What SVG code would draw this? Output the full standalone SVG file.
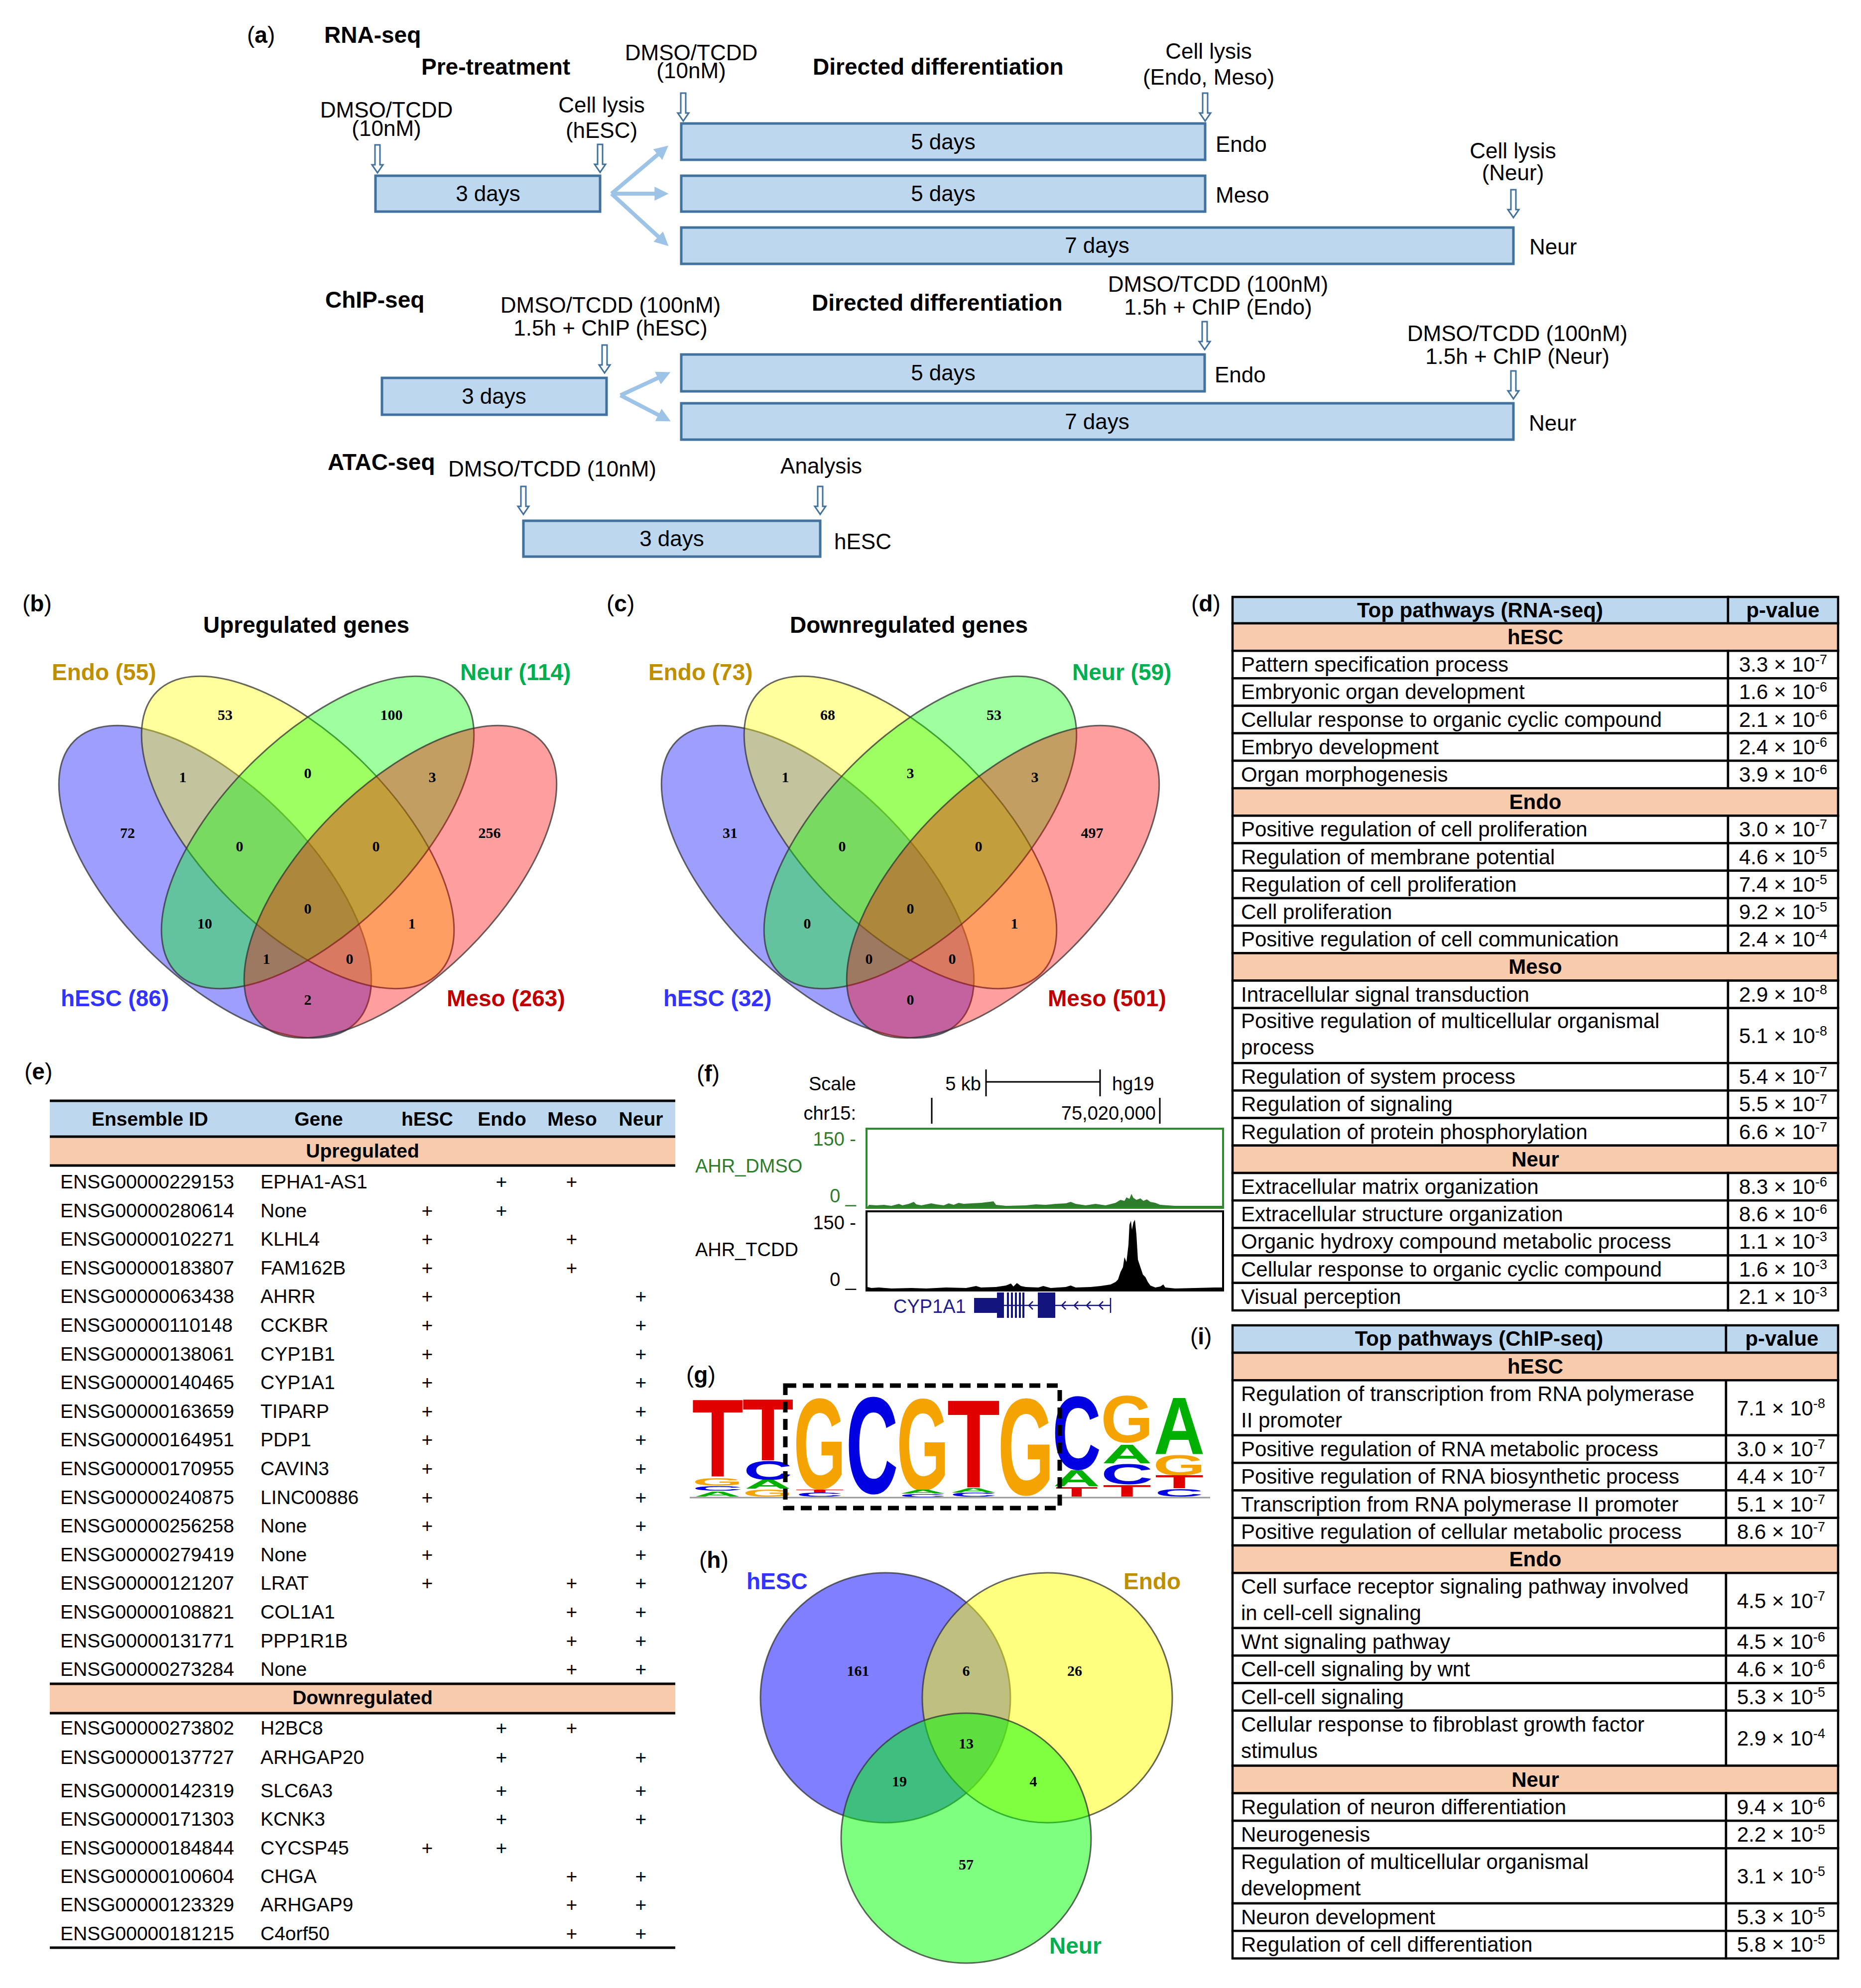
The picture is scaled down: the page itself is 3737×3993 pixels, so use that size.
<svg xmlns="http://www.w3.org/2000/svg" xmlns:xlink="http://www.w3.org/1999/xlink" width="3737" height="3993" viewBox="0 0 3737 3993">
<style>
text{font-family:"Liberation Sans",Arial,Helvetica,sans-serif}
.b{font-weight:bold}
.f44{font-size:44px}
.f46{font-size:46px}
.m{text-anchor:middle}
.box{fill:#BDD7EE;stroke:#41719C;stroke-width:5}
.lb{stroke:#9DC3E6;stroke-width:8;fill:none}
.td{font-size:42px}
.sup{font-size:27px}
.cell{fill:#fff;stroke:#000;stroke-width:4.5}
.hd{fill:#BDD7EE;stroke:#000;stroke-width:4.5}
.band{fill:#F8CBAD;stroke:#000;stroke-width:4.5}
.te{font-size:39px}
.vn{font-family:"Liberation Serif","Times New Roman",serif;font-weight:bold;font-size:30px;text-anchor:middle}
.ucsc{font-size:38px}
.lg{font-weight:bold;font-size:100px;text-anchor:middle}
.ell{stroke:#333;stroke-opacity:.75;stroke-width:3;fill-opacity:.38}
.cir{stroke:#333;stroke-opacity:.75;stroke-width:3;fill-opacity:.5}
.hl{stroke:#000;stroke-width:5}
.endo{fill:#BF8F00}
.neur{fill:#00B050}
.hesc{fill:#3333FF}
.meso{fill:#C00000}
</style>
<defs>
<path id="da" d="M-5,0 H5 V40 H11 L0,56 L-11,40 H-5 Z" fill="#fff" stroke="#41719C" stroke-width="3"/>
<marker id="lbh" viewBox="0 0 10 10" refX="2" refY="5" markerWidth="3.5" markerHeight="3.5" orient="auto" markerUnits="strokeWidth">
<path d="M0,0 L10,5 L0,10 Z" fill="#9DC3E6"/>
</marker>
<g id="venn4">
<ellipse class="ell" cx="432" cy="1771" rx="400" ry="192" fill="#0000FF" transform="rotate(45 432 1771)"/>
<ellipse class="ell" cx="598" cy="1672" rx="400" ry="192" fill="#FFFF00" transform="rotate(45 598 1672)"/>
<ellipse class="ell" cx="638" cy="1672" rx="400" ry="192" fill="#00FF00" transform="rotate(-45 638 1672)"/>
<ellipse class="ell" cx="804" cy="1771" rx="400" ry="192" fill="#FF0000" transform="rotate(-45 804 1771)"/>
</g>
</defs>
<rect width="3737" height="3993" fill="#fff"/>

<!-- Panel a -->
<g id="panel-a">
<text class="f46" x="496" y="86">(<tspan class="b">a</tspan>)</text>
<text class="b f46" x="651" y="86">RNA-seq</text>
<text class="b f46" x="846" y="150">Pre-treatment</text>
<text class="f44 m" x="1388" y="121">DMSO/TCDD</text>
<text class="f44 m" x="1388" y="157">(10nM)</text>
<text class="b f46" x="1632" y="150">Directed differentiation</text>
<text class="f44 m" x="2427" y="118">Cell lysis</text>
<text class="f44 m" x="2427" y="170">(Endo, Meso)</text>
<text class="f44 m" x="776" y="236">DMSO/TCDD</text>
<text class="f44 m" x="776" y="273">(10nM)</text>
<text class="f44 m" x="1208" y="226">Cell lysis</text>
<text class="f44 m" x="1208" y="277">(hESC)</text>
<text class="f44 m" x="3038" y="318">Cell lysis</text>
<text class="f44 m" x="3038" y="362">(Neur)</text>
<g id="rna-pre"><rect class="box" x="754" y="353" width="451" height="72"/><text class="f44 m" x="980" y="404">3 days</text></g>
<g id="rna-endo"><rect class="box" x="1368" y="248" width="1052" height="73"/><text class="f44 m" x="1894" y="300">5 days</text><text class="f44" x="2441" y="305">Endo</text></g>
<g id="rna-meso"><rect class="box" x="1368" y="353" width="1052" height="72"/><text class="f44 m" x="1894" y="404">5 days</text><text class="f44" x="2441" y="407">Meso</text></g>
<g id="rna-neur"><rect class="box" x="1368" y="457" width="1671" height="73"/><text class="f44 m" x="2203" y="508">7 days</text><text class="f44" x="3071" y="511">Neur</text></g>

<text class="b f46" x="653" y="618">ChIP-seq</text>
<text class="f44 m" x="1226" y="628">DMSO/TCDD (100nM)</text>
<text class="f44 m" x="1226" y="674">1.5h + ChIP (hESC)</text>
<text class="b f46" x="1630" y="624">Directed differentiation</text>
<text class="f44 m" x="2446" y="586">DMSO/TCDD (100nM)</text>
<text class="f44 m" x="2446" y="632">1.5h + ChIP (Endo)</text>
<text class="f44 m" x="3047" y="685">DMSO/TCDD (100nM)</text>
<text class="f44 m" x="3047" y="731">1.5h + ChIP (Neur)</text>
<g id="chip-pre"><rect class="box" x="767" y="759" width="451" height="74"/><text class="f44 m" x="992" y="811">3 days</text></g>
<g id="chip-endo"><rect class="box" x="1368" y="712" width="1051" height="74"/><text class="f44 m" x="1894" y="764">5 days</text><text class="f44" x="2439" y="768">Endo</text></g>
<g id="chip-neur"><rect class="box" x="1368" y="810" width="1671" height="73"/><text class="f44 m" x="2203" y="862">7 days</text><text class="f44" x="3070" y="865">Neur</text></g>

<text class="b f46" x="658" y="944">ATAC-seq</text>
<text class="f44 m" x="1109" y="957">DMSO/TCDD (10nM)</text>
<text class="f44 m" x="1649" y="951">Analysis</text>
<g id="atac-box"><rect class="box" x="1051" y="1046" width="596" height="72"/><text class="f44 m" x="1349" y="1097">3 days</text><text class="f44" x="1675" y="1103">hESC</text></g>
</g>

<g id="connectors">
<use xlink:href="#da" x="758" y="291"/>
<use xlink:href="#da" x="1205" y="290"/>
<use xlink:href="#da" x="1372" y="187"/>
<use xlink:href="#da" x="2420" y="187"/>
<use xlink:href="#da" x="3039" y="381"/>
<use xlink:href="#da" x="1214" y="693"/>
<use xlink:href="#da" x="2419" y="646"/>
<use xlink:href="#da" x="3039" y="745"/>
<use xlink:href="#da" x="1051" y="977"/>
<use xlink:href="#da" x="1647" y="977"/>
<line class="lb" x1="1228" y1="389" x2="1325" y2="307" marker-end="url(#lbh)"/>
<line class="lb" x1="1228" y1="389" x2="1320" y2="389" marker-end="url(#lbh)"/>
<line class="lb" x1="1228" y1="389" x2="1326" y2="479" marker-end="url(#lbh)"/>
<line class="lb" x1="1246" y1="794" x2="1326" y2="757" marker-end="url(#lbh)"/>
<line class="lb" x1="1246" y1="794" x2="1327" y2="836" marker-end="url(#lbh)"/>
</g>

<!-- Panel b -->
<g id="panel-b">
<text class="f46" x="45" y="1228">(<tspan class="b">b</tspan>)</text>
<text class="b f46 m" x="615" y="1271">Upregulated genes</text>
<use xlink:href="#venn4"/>
<text class="b f46 endo" x="104" y="1366">Endo (55)</text>
<text class="b f46 neur" x="924" y="1366">Neur (114)</text>
<text class="b f46 hesc" x="122" y="2021">hESC (86)</text>
<text class="b f46 meso" x="897" y="2021">Meso (263)</text>
<text class="vn" x="452" y="1446">53</text>
<text class="vn" x="786" y="1446">100</text>
<text class="vn" x="367" y="1571">1</text>
<text class="vn" x="618" y="1563">0</text>
<text class="vn" x="868" y="1571">3</text>
<text class="vn" x="256" y="1683">72</text>
<text class="vn" x="983" y="1683">256</text>
<text class="vn" x="481" y="1710">0</text>
<text class="vn" x="755" y="1710">0</text>
<text class="vn" x="618" y="1835">0</text>
<text class="vn" x="411" y="1865">10</text>
<text class="vn" x="827" y="1865">1</text>
<text class="vn" x="535" y="1936">1</text>
<text class="vn" x="702" y="1936">0</text>
<text class="vn" x="618" y="2018">2</text>
</g>

<!-- Panel c -->
<g id="panel-c">
<text class="f46" x="1218" y="1228">(<tspan class="b">c</tspan>)</text>
<text class="b f46 m" x="1825" y="1271">Downregulated genes</text>
<g transform="translate(1210,0)">
<use xlink:href="#venn4"/>
<text class="b f46 endo" x="92" y="1366">Endo (73)</text>
<text class="b f46 neur" x="943" y="1366">Neur (59)</text>
<text class="b f46 hesc" x="122" y="2021">hESC (32)</text>
<text class="b f46 meso" x="894" y="2021">Meso (501)</text>
<text class="vn" x="452" y="1446">68</text>
<text class="vn" x="786" y="1446">53</text>
<text class="vn" x="367" y="1571">1</text>
<text class="vn" x="618" y="1563">3</text>
<text class="vn" x="868" y="1571">3</text>
<text class="vn" x="256" y="1683">31</text>
<text class="vn" x="983" y="1683">497</text>
<text class="vn" x="481" y="1710">0</text>
<text class="vn" x="755" y="1710">0</text>
<text class="vn" x="618" y="1835">0</text>
<text class="vn" x="411" y="1865">0</text>
<text class="vn" x="827" y="1865">1</text>
<text class="vn" x="535" y="1936">0</text>
<text class="vn" x="702" y="1936">0</text>
<text class="vn" x="618" y="2018">0</text>
</g>
</g>

<!-- Panel d -->
<g id="panel-d">
<text class="f46" x="2392" y="1228">(<tspan class="b">d</tspan>)</text>
<rect class="hd" x="2475" y="1199" width="995" height="53"/>
<rect class="hd" x="3470" y="1199" width="221" height="53"/>
<text class="td b m" x="2972" y="1240">Top pathways (RNA-seq)</text>
<text class="td b m" x="3580" y="1240">p-value</text>
<rect class="band" x="2475" y="1252" width="1216" height="55.2"/><text class="td b m" x="3083" y="1294">hESC</text>
<rect class="cell" x="2475" y="1307.2" width="995" height="55.2"/><rect class="cell" x="3470" y="1307.2" width="221" height="55.2"/>
<text class="td" x="2492" y="1349">Pattern specification process</text><text class="td" x="3492" y="1349">3.3 × 10<tspan class="sup" dy="-15">-7</tspan></text>
<rect class="cell" x="2475" y="1362.4" width="995" height="55.2"/><rect class="cell" x="3470" y="1362.4" width="221" height="55.2"/>
<text class="td" x="2492" y="1404">Embryonic organ development</text><text class="td" x="3492" y="1404">1.6 × 10<tspan class="sup" dy="-15">-6</tspan></text>
<rect class="cell" x="2475" y="1417.6" width="995" height="55.2"/><rect class="cell" x="3470" y="1417.6" width="221" height="55.2"/>
<text class="td" x="2492" y="1460">Cellular response to organic cyclic compound</text><text class="td" x="3492" y="1460">2.1 × 10<tspan class="sup" dy="-15">-6</tspan></text>
<rect class="cell" x="2475" y="1472.8" width="995" height="55.2"/><rect class="cell" x="3470" y="1472.8" width="221" height="55.2"/>
<text class="td" x="2492" y="1515">Embryo development</text><text class="td" x="3492" y="1515">2.4 × 10<tspan class="sup" dy="-15">-6</tspan></text>
<rect class="cell" x="2475" y="1528" width="995" height="55.2"/><rect class="cell" x="3470" y="1528" width="221" height="55.2"/>
<text class="td" x="2492" y="1570">Organ morphogenesis</text><text class="td" x="3492" y="1570">3.9 × 10<tspan class="sup" dy="-15">-6</tspan></text>
<rect class="band" x="2475" y="1583.2" width="1216" height="55.2"/><text class="td b m" x="3083" y="1625">Endo</text>
<rect class="cell" x="2475" y="1638.4" width="995" height="55.2"/><rect class="cell" x="3470" y="1638.4" width="221" height="55.2"/>
<text class="td" x="2492" y="1680">Positive regulation of cell proliferation</text><text class="td" x="3492" y="1680">3.0 × 10<tspan class="sup" dy="-15">-7</tspan></text>
<rect class="cell" x="2475" y="1693.6" width="995" height="55.2"/><rect class="cell" x="3470" y="1693.6" width="221" height="55.2"/>
<text class="td" x="2492" y="1736">Regulation of membrane potential</text><text class="td" x="3492" y="1736">4.6 × 10<tspan class="sup" dy="-15">-5</tspan></text>
<rect class="cell" x="2475" y="1748.8" width="995" height="55.2"/><rect class="cell" x="3470" y="1748.8" width="221" height="55.2"/>
<text class="td" x="2492" y="1791">Regulation of cell proliferation</text><text class="td" x="3492" y="1791">7.4 × 10<tspan class="sup" dy="-15">-5</tspan></text>
<rect class="cell" x="2475" y="1804" width="995" height="55.2"/><rect class="cell" x="3470" y="1804" width="221" height="55.2"/>
<text class="td" x="2492" y="1846">Cell proliferation</text><text class="td" x="3492" y="1846">9.2 × 10<tspan class="sup" dy="-15">-5</tspan></text>
<rect class="cell" x="2475" y="1859.2" width="995" height="55.2"/><rect class="cell" x="3470" y="1859.2" width="221" height="55.2"/>
<text class="td" x="2492" y="1901">Positive regulation of cell communication</text><text class="td" x="3492" y="1901">2.4 × 10<tspan class="sup" dy="-15">-4</tspan></text>
<rect class="band" x="2475" y="1914.4" width="1216" height="55.2"/><text class="td b m" x="3083" y="1956">Meso</text>
<rect class="cell" x="2475" y="1969.6" width="995" height="55.2"/><rect class="cell" x="3470" y="1969.6" width="221" height="55.2"/>
<text class="td" x="2492" y="2012">Intracellular signal transduction</text><text class="td" x="3492" y="2012">2.9 × 10<tspan class="sup" dy="-15">-8</tspan></text>
<rect class="cell" x="2475" y="2024.8" width="995" height="110.4"/><rect class="cell" x="3470" y="2024.8" width="221" height="110.4"/>
<text class="td" x="2492" y="2065">Positive regulation of multicellular organismal</text><text class="td" x="2492" y="2118">process</text><text class="td" x="3492" y="2095">5.1 × 10<tspan class="sup" dy="-15">-8</tspan></text>
<rect class="cell" x="2475" y="2135.2" width="995" height="55.2"/><rect class="cell" x="3470" y="2135.2" width="221" height="55.2"/>
<text class="td" x="2492" y="2177">Regulation of system process</text><text class="td" x="3492" y="2177">5.4 × 10<tspan class="sup" dy="-15">-7</tspan></text>
<rect class="cell" x="2475" y="2190.4" width="995" height="55.2"/><rect class="cell" x="3470" y="2190.4" width="221" height="55.2"/>
<text class="td" x="2492" y="2232">Regulation of signaling</text><text class="td" x="3492" y="2232">5.5 × 10<tspan class="sup" dy="-15">-7</tspan></text>
<rect class="cell" x="2475" y="2245.6" width="995" height="55.2"/><rect class="cell" x="3470" y="2245.6" width="221" height="55.2"/>
<text class="td" x="2492" y="2288">Regulation of protein phosphorylation</text><text class="td" x="3492" y="2288">6.6 × 10<tspan class="sup" dy="-15">-7</tspan></text>
<rect class="band" x="2475" y="2300.8" width="1216" height="55.2"/><text class="td b m" x="3083" y="2343">Neur</text>
<rect class="cell" x="2475" y="2356" width="995" height="55.2"/><rect class="cell" x="3470" y="2356" width="221" height="55.2"/>
<text class="td" x="2492" y="2398">Extracellular matrix organization</text><text class="td" x="3492" y="2398">8.3 × 10<tspan class="sup" dy="-15">-6</tspan></text>
<rect class="cell" x="2475" y="2411.2" width="995" height="55.2"/><rect class="cell" x="3470" y="2411.2" width="221" height="55.2"/>
<text class="td" x="2492" y="2453">Extracellular structure organization</text><text class="td" x="3492" y="2453">8.6 × 10<tspan class="sup" dy="-15">-6</tspan></text>
<rect class="cell" x="2475" y="2466.4" width="995" height="55.2"/><rect class="cell" x="3470" y="2466.4" width="221" height="55.2"/>
<text class="td" x="2492" y="2508">Organic hydroxy compound metabolic process</text><text class="td" x="3492" y="2508">1.1 × 10<tspan class="sup" dy="-15">-3</tspan></text>
<rect class="cell" x="2475" y="2521.6" width="995" height="55.2"/><rect class="cell" x="3470" y="2521.6" width="221" height="55.2"/>
<text class="td" x="2492" y="2564">Cellular response to organic cyclic compound</text><text class="td" x="3492" y="2564">1.6 × 10<tspan class="sup" dy="-15">-3</tspan></text>
<rect class="cell" x="2475" y="2576.8" width="995" height="55.2"/><rect class="cell" x="3470" y="2576.8" width="221" height="55.2"/>
<text class="td" x="2492" y="2619">Visual perception</text><text class="td" x="3492" y="2619">2.1 × 10<tspan class="sup" dy="-15">-3</tspan></text>
</g>

<!-- Panel i -->
<g id="panel-i">
<text class="f46" x="2390" y="2700">(<tspan class="b">i</tspan>)</text>
<rect class="hd" x="2475" y="2662" width="991" height="55"/>
<rect class="hd" x="3466" y="2662" width="225" height="55"/>
<text class="td b m" x="2970" y="2703">Top pathways (ChIP-seq)</text>
<text class="td b m" x="3578" y="2703">p-value</text>
<rect class="band" x="2475" y="2717" width="1216" height="55.3"/><text class="td b m" x="3083" y="2759">hESC</text>
<rect class="cell" x="2475" y="2772.3" width="991" height="110.6"/><rect class="cell" x="3466" y="2772.3" width="225" height="110.6"/>
<text class="td" x="2492" y="2814">Regulation of transcription from RNA polymerase</text><text class="td" x="2492" y="2867">II promoter</text><text class="td" x="3488" y="2843">7.1 × 10<tspan class="sup" dy="-15">-8</tspan></text>
<rect class="cell" x="2475" y="2882.9" width="991" height="55.3"/><rect class="cell" x="3466" y="2882.9" width="225" height="55.3"/>
<text class="td" x="2492" y="2925">Positive regulation of RNA metabolic process</text><text class="td" x="3488" y="2925">3.0 × 10<tspan class="sup" dy="-15">-7</tspan></text>
<rect class="cell" x="2475" y="2938.2" width="991" height="55.3"/><rect class="cell" x="3466" y="2938.2" width="225" height="55.3"/>
<text class="td" x="2492" y="2980">Positive regulation of RNA biosynthetic process</text><text class="td" x="3488" y="2980">4.4 × 10<tspan class="sup" dy="-15">-7</tspan></text>
<rect class="cell" x="2475" y="2993.5" width="991" height="55.3"/><rect class="cell" x="3466" y="2993.5" width="225" height="55.3"/>
<text class="td" x="2492" y="3036">Transcription from RNA polymerase II promoter</text><text class="td" x="3488" y="3036">5.1 × 10<tspan class="sup" dy="-15">-7</tspan></text>
<rect class="cell" x="2475" y="3048.8" width="991" height="55.3"/><rect class="cell" x="3466" y="3048.8" width="225" height="55.3"/>
<text class="td" x="2492" y="3091">Positive regulation of cellular metabolic process</text><text class="td" x="3488" y="3091">8.6 × 10<tspan class="sup" dy="-15">-7</tspan></text>
<rect class="band" x="2475" y="3104.1" width="1216" height="55.3"/><text class="td b m" x="3083" y="3146">Endo</text>
<rect class="cell" x="2475" y="3159.4" width="991" height="110.6"/><rect class="cell" x="3466" y="3159.4" width="225" height="110.6"/>
<text class="td" x="2492" y="3201">Cell surface receptor signaling pathway involved</text><text class="td" x="2492" y="3254">in cell-cell signaling</text><text class="td" x="3488" y="3230">4.5 × 10<tspan class="sup" dy="-15">-7</tspan></text>
<rect class="cell" x="2475" y="3270" width="991" height="55.3"/><rect class="cell" x="3466" y="3270" width="225" height="55.3"/>
<text class="td" x="2492" y="3312">Wnt signaling pathway</text><text class="td" x="3488" y="3312">4.5 × 10<tspan class="sup" dy="-15">-6</tspan></text>
<rect class="cell" x="2475" y="3325.3" width="991" height="55.3"/><rect class="cell" x="3466" y="3325.3" width="225" height="55.3"/>
<text class="td" x="2492" y="3367">Cell-cell signaling by wnt</text><text class="td" x="3488" y="3367">4.6 × 10<tspan class="sup" dy="-15">-6</tspan></text>
<rect class="cell" x="2475" y="3380.6" width="991" height="55.3"/><rect class="cell" x="3466" y="3380.6" width="225" height="55.3"/>
<text class="td" x="2492" y="3423">Cell-cell signaling</text><text class="td" x="3488" y="3423">5.3 × 10<tspan class="sup" dy="-15">-5</tspan></text>
<rect class="cell" x="2475" y="3435.9" width="991" height="110.6"/><rect class="cell" x="3466" y="3435.9" width="225" height="110.6"/>
<text class="td" x="2492" y="3478">Cellular response to fibroblast growth factor</text><text class="td" x="2492" y="3531">stimulus</text><text class="td" x="3488" y="3506">2.9 × 10<tspan class="sup" dy="-15">-4</tspan></text>
<rect class="band" x="2475" y="3546.5" width="1216" height="55.3"/><text class="td b m" x="3083" y="3589">Neur</text>
<rect class="cell" x="2475" y="3601.8" width="991" height="55.3"/><rect class="cell" x="3466" y="3601.8" width="225" height="55.3"/>
<text class="td" x="2492" y="3644">Regulation of neuron differentiation</text><text class="td" x="3488" y="3644">9.4 × 10<tspan class="sup" dy="-15">-6</tspan></text>
<rect class="cell" x="2475" y="3657.1" width="991" height="55.3"/><rect class="cell" x="3466" y="3657.1" width="225" height="55.3"/>
<text class="td" x="2492" y="3699">Neurogenesis</text><text class="td" x="3488" y="3699">2.2 × 10<tspan class="sup" dy="-15">-5</tspan></text>
<rect class="cell" x="2475" y="3712.4" width="991" height="110.6"/><rect class="cell" x="3466" y="3712.4" width="225" height="110.6"/>
<text class="td" x="2492" y="3754">Regulation of multicellular organismal</text><text class="td" x="2492" y="3807">development</text><text class="td" x="3488" y="3783">3.1 × 10<tspan class="sup" dy="-15">-5</tspan></text>
<rect class="cell" x="2475" y="3823" width="991" height="55.3"/><rect class="cell" x="3466" y="3823" width="225" height="55.3"/>
<text class="td" x="2492" y="3865">Neuron development</text><text class="td" x="3488" y="3865">5.3 × 10<tspan class="sup" dy="-15">-5</tspan></text>
<rect class="cell" x="2475" y="3878.3" width="991" height="55.3"/><rect class="cell" x="3466" y="3878.3" width="225" height="55.3"/>
<text class="td" x="2492" y="3920">Regulation of cell differentiation</text><text class="td" x="3488" y="3920">5.8 × 10<tspan class="sup" dy="-15">-5</tspan></text>
</g>

<!-- Panel e -->
<g id="panel-e">
<text class="f46" x="49" y="2168">(<tspan class="b">e</tspan>)</text>
<rect x="100" y="2211" width="1256" height="72" fill="#BDD7EE"/>
<rect x="100" y="2283" width="1256" height="58" fill="#F8CBAD"/>
<rect x="100" y="3382" width="1256" height="59" fill="#F8CBAD"/>
<line class="hl" x1="100" y1="2211" x2="1356" y2="2211"/>
<line class="hl" x1="100" y1="2283" x2="1356" y2="2283"/>
<line class="hl" x1="100" y1="2341" x2="1356" y2="2341"/>
<line class="hl" x1="100" y1="3382" x2="1356" y2="3382"/>
<line class="hl" x1="100" y1="3441" x2="1356" y2="3441"/>
<line class="hl" x1="100" y1="3912" x2="1356" y2="3912"/>
<g class="te b">
<text class="m" x="301" y="2261">Ensemble ID</text>
<text class="m" x="640" y="2261">Gene</text>
<text class="m" x="858" y="2261">hESC</text>
<text class="m" x="1008" y="2261">Endo</text>
<text class="m" x="1149" y="2261">Meso</text>
<text class="m" x="1287" y="2261">Neur</text>
<text class="m" x="728" y="2325">Upregulated</text>
<text class="m" x="728" y="3423">Downregulated</text>
</g>
<g class="te">
<text x="121" y="2387">ENSG00000229153</text><text x="523" y="2387">EPHA1-AS1</text>
<text x="121" y="2445">ENSG00000280614</text><text x="523" y="2445">None</text>
<text x="121" y="2502">ENSG00000102271</text><text x="523" y="2502">KLHL4</text>
<text x="121" y="2560">ENSG00000183807</text><text x="523" y="2560">FAM162B</text>
<text x="121" y="2617">ENSG00000063438</text><text x="523" y="2617">AHRR</text>
<text x="121" y="2675">ENSG00000110148</text><text x="523" y="2675">CCKBR</text>
<text x="121" y="2733">ENSG00000138061</text><text x="523" y="2733">CYP1B1</text>
<text x="121" y="2790">ENSG00000140465</text><text x="523" y="2790">CYP1A1</text>
<text x="121" y="2848">ENSG00000163659</text><text x="523" y="2848">TIPARP</text>
<text x="121" y="2905">ENSG00000164951</text><text x="523" y="2905">PDP1</text>
<text x="121" y="2963">ENSG00000170955</text><text x="523" y="2963">CAVIN3</text>
<text x="121" y="3021">ENSG00000240875</text><text x="523" y="3021">LINC00886</text>
<text x="121" y="3078">ENSG00000256258</text><text x="523" y="3078">None</text>
<text x="121" y="3136">ENSG00000279419</text><text x="523" y="3136">None</text>
<text x="121" y="3193">ENSG00000121207</text><text x="523" y="3193">LRAT</text>
<text x="121" y="3251">ENSG00000108821</text><text x="523" y="3251">COL1A1</text>
<text x="121" y="3309">ENSG00000131771</text><text x="523" y="3309">PPP1R1B</text>
<text x="121" y="3366">ENSG00000273284</text><text x="523" y="3366">None</text>
<text x="121" y="3484">ENSG00000273802</text><text x="523" y="3484">H2BC8</text>
<text x="121" y="3543">ENSG00000137727</text><text x="523" y="3543">ARHGAP20</text>
<text x="121" y="3610">ENSG00000142319</text><text x="523" y="3610">SLC6A3</text>
<text x="121" y="3667">ENSG00000171303</text><text x="523" y="3667">KCNK3</text>
<text x="121" y="3725">ENSG00000184844</text><text x="523" y="3725">CYCSP45</text>
<text x="121" y="3782">ENSG00000100604</text><text x="523" y="3782">CHGA</text>
<text x="121" y="3839">ENSG00000123329</text><text x="523" y="3839">ARHGAP9</text>
<text x="121" y="3897">ENSG00000181215</text><text x="523" y="3897">C4orf50</text>
</g>
<g class="te m">
<text x="1007" y="2387">+</text><text x="1148" y="2387">+</text>
<text x="858" y="2445">+</text><text x="1007" y="2445">+</text>
<text x="858" y="2502">+</text><text x="1148" y="2502">+</text>
<text x="858" y="2560">+</text><text x="1148" y="2560">+</text>
<text x="858" y="2617">+</text><text x="1287" y="2617">+</text>
<text x="858" y="2675">+</text><text x="1287" y="2675">+</text>
<text x="858" y="2733">+</text><text x="1287" y="2733">+</text>
<text x="858" y="2790">+</text><text x="1287" y="2790">+</text>
<text x="858" y="2848">+</text><text x="1287" y="2848">+</text>
<text x="858" y="2905">+</text><text x="1287" y="2905">+</text>
<text x="858" y="2963">+</text><text x="1287" y="2963">+</text>
<text x="858" y="3021">+</text><text x="1287" y="3021">+</text>
<text x="858" y="3078">+</text><text x="1287" y="3078">+</text>
<text x="858" y="3136">+</text><text x="1287" y="3136">+</text>
<text x="858" y="3193">+</text><text x="1148" y="3193">+</text><text x="1287" y="3193">+</text>
<text x="1148" y="3251">+</text><text x="1287" y="3251">+</text>
<text x="1148" y="3309">+</text><text x="1287" y="3309">+</text>
<text x="1148" y="3366">+</text><text x="1287" y="3366">+</text>
<text x="1007" y="3484">+</text><text x="1148" y="3484">+</text>
<text x="1007" y="3543">+</text><text x="1287" y="3543">+</text>
<text x="1007" y="3610">+</text><text x="1287" y="3610">+</text>
<text x="1007" y="3667">+</text><text x="1287" y="3667">+</text>
<text x="858" y="3725">+</text><text x="1007" y="3725">+</text>
<text x="1148" y="3782">+</text><text x="1287" y="3782">+</text>
<text x="1148" y="3839">+</text><text x="1287" y="3839">+</text>
<text x="1148" y="3897">+</text><text x="1287" y="3897">+</text>
</g>
</g>

<!-- Panel f -->
<g id="panel-f">
<text class="f46" x="1399" y="2172">(<tspan class="b">f</tspan>)</text>
<text class="ucsc" x="1719" y="2190" text-anchor="end">Scale</text>
<text class="ucsc" x="1970" y="2190" text-anchor="end">5 kb</text>
<path d="M1980,2148 V2202 M1980,2173 H2209 M2209,2148 V2202" stroke="#000" stroke-width="3" fill="none"/>
<text class="ucsc" x="2233" y="2190">hg19</text>
<text class="ucsc" x="1719" y="2249" text-anchor="end">chr15:</text>
<path d="M1871,2205 V2257 M2329,2205 V2257" stroke="#000" stroke-width="3" fill="none"/>
<text class="ucsc" x="2321" y="2249" text-anchor="end">75,020,000</text>
<text class="ucsc" x="1719" y="2301" text-anchor="end" fill="#2D7D2D">150 -</text>
<text class="ucsc" x="1396" y="2355" fill="#2D7D2D">AHR_DMSO</text>
<text class="ucsc" x="1719" y="2415" text-anchor="end" fill="#2D7D2D">0 _</text>
<path fill="#2D7D2D" d="M1742,2424 L1745,2420 L1760,2421 L1775,2420 L1790,2422 L1805,2418 L1812,2421 L1825,2418 L1835,2414 L1840,2419 L1850,2421 L1870,2417 L1880,2419 L1895,2421 L1905,2417 L1915,2420 L1925,2416 L1935,2418 L1950,2417 L1970,2416 L1995,2413 L2000,2420 L2020,2422 L2060,2421 L2080,2419 L2100,2420 L2120,2418 L2140,2417 L2150,2414 L2160,2418 L2180,2421 L2200,2418 L2220,2421 L2240,2416 L2250,2410 L2258,2412 L2262,2405 L2268,2408 L2272,2398 L2276,2406 L2282,2410 L2290,2407 L2296,2412 L2303,2409 L2310,2414 L2320,2416 L2330,2420 L2345,2421 L2360,2422 L2454,2422 L2454,2424 Z"/>
<rect x="1740" y="2267" width="716" height="159" fill="none" stroke="#2D8B2D" stroke-width="4"/>
<text class="ucsc" x="1719" y="2469" text-anchor="end">150 -</text>
<text class="ucsc" x="1396" y="2523">AHR_TCDD</text>
<text class="ucsc" x="1719" y="2583" text-anchor="end">0 _</text>
<path fill="#000" d="M1742,2590 L1742,2585 L1750,2587 L1765,2586 L1790,2588 L1830,2587 L1860,2588 L1900,2586 L1940,2587 L1960,2583 L1970,2586 L2000,2585 L2020,2582 L2030,2578 L2035,2584 L2042,2577 L2050,2583 L2060,2585 L2085,2586 L2095,2583 L2110,2587 L2140,2585 L2150,2582 L2160,2586 L2190,2585 L2210,2583 L2230,2580 L2240,2575 L2245,2570 L2250,2555 L2255,2545 L2258,2525 L2262,2535 L2266,2500 L2268,2460 L2271,2452 L2273,2470 L2276,2455 L2279,2450 L2282,2480 L2285,2530 L2290,2545 L2295,2560 L2300,2565 L2305,2575 L2310,2582 L2320,2586 L2330,2584 L2336,2580 L2340,2586 L2360,2588 L2400,2587 L2440,2586 L2454,2586 L2454,2590 Z"/>
<rect x="1740" y="2433" width="716" height="159" fill="none" stroke="#000" stroke-width="4"/>
<text class="ucsc" x="1794" y="2637" fill="#1E1E8C">CYP1A1</text>
<g stroke="#14147F" fill="#14147F">
<line x1="1956" y1="2622" x2="2230" y2="2622" stroke-width="2.5"/>
<rect x="1956" y="2607" width="46" height="30" stroke="none"/>
<rect x="2002" y="2596" width="14" height="51" stroke="none"/>
<path d="M2024,2596 V2647 M2032,2596 V2647 M2040,2596 V2647 M2048,2596 V2647 M2055,2596 V2647" stroke-width="4" fill="none"/>
<rect x="2084" y="2596" width="35" height="51" stroke="none"/>
<path d="M2074,2614 L2066,2622 L2074,2630 M2140,2614 L2132,2622 L2140,2630 M2165,2614 L2157,2622 L2165,2630 M2190,2614 L2182,2622 L2190,2630 M2215,2614 L2207,2622 L2215,2630 M2230,2607 V2637" stroke-width="2.5" fill="none"/>
</g>
</g>

<!-- Panel g -->
<g id="panel-g">
<text class="f46" x="1378" y="2777">(<tspan class="b">g</tspan>)</text>
<g class="lg">
<text fill="#E00000" transform="translate(1441,2966) scale(1.69,2.22)">T</text>
<text fill="#F5A300" transform="translate(1441,2984) scale(1.3,0.22)">G</text>
<text fill="#0000E0" transform="translate(1441,2994) scale(1.4,0.12)">C</text>
<text fill="#00B000" transform="translate(1441,3006) scale(1.3,0.15)">A</text>
<text fill="#E00000" transform="translate(1542,2933) scale(1.69,1.76)">T</text>
<text fill="#0000E0" transform="translate(1542,2972) scale(1.35,0.53)">C</text>
<text fill="#00B000" transform="translate(1542,2990) scale(1.3,0.25)">A</text>
<text fill="#F5A300" transform="translate(1542,3006) scale(1.3,0.2)">G</text>
<text fill="#F5A300" transform="translate(1646,2990) scale(1.35,2.6)">G</text>
<text fill="#E00000" transform="translate(1646,2998) scale(1.6,0.1)">T</text>
<text fill="#0000E0" transform="translate(1646,3006) scale(1.3,0.1)">C</text>
<text fill="#0000E0" transform="translate(1751,2999) scale(1.45,2.77)">C</text>
<text fill="#F5A300" transform="translate(1853,2992) scale(1.35,2.62)">G</text>
<text fill="#00B000" transform="translate(1853,3000) scale(1.3,0.11)">A</text>
<text fill="#0000E0" transform="translate(1853,3007) scale(1.3,0.09)">C</text>
<text fill="#E00000" transform="translate(1955,2988) scale(1.74,2.53)">T</text>
<text fill="#00B000" transform="translate(1955,2998) scale(1.3,0.13)">A</text>
<text fill="#0000E0" transform="translate(1955,3006) scale(1.3,0.1)">C</text>
<text fill="#F5A300" transform="translate(2060,3002) scale(1.45,2.77)">G</text>
<text fill="#0000E0" transform="translate(2162,2951) scale(1.35,2.1)">C</text>
<text fill="#00B000" transform="translate(2162,2985) scale(1.3,0.47)">A</text>
<text fill="#E00000" transform="translate(2162,3006) scale(1.4,0.28)">T</text>
<text fill="#F5A300" transform="translate(2263,2897) scale(1.35,1.34)">G</text>
<text fill="#00B000" transform="translate(2263,2939) scale(1.4,0.54)">A</text>
<text fill="#0000E0" transform="translate(2263,2981) scale(1.45,0.58)">C</text>
<text fill="#E00000" transform="translate(2263,3006) scale(1.6,0.34)">T</text>
<text fill="#00B000" transform="translate(2368,2921) scale(1.42,1.63)">A</text>
<text fill="#F5A300" transform="translate(2368,2963) scale(1.35,0.58)">G</text>
<text fill="#E00000" transform="translate(2368,2989) scale(1.6,0.36)">T</text>
<text fill="#0000E0" transform="translate(2368,3006) scale(1.35,0.22)">C</text>
</g>
<line x1="1385" y1="3008" x2="2430" y2="3008" stroke="#999" stroke-width="3"/>
<rect x="1577" y="2783" width="551" height="246" fill="none" stroke="#000" stroke-width="9" stroke-dasharray="22 13"/>
</g>

<!-- Panel h -->
<g id="panel-h">
<text class="f46" x="1404" y="3149">(<tspan class="b">h</tspan>)</text>
<circle class="cir" cx="1778" cy="3410" r="251" fill="#0000FF"/>
<circle class="cir" cx="2103" cy="3410" r="251" fill="#FFFF00"/>
<circle class="cir" cx="1940" cy="3692" r="251" fill="#00FF00"/>
<text class="b f46 hesc" x="1499" y="3192">hESC</text>
<text class="b f46 endo" x="2256" y="3192">Endo</text>
<text class="b f46 neur" x="2107" y="3924">Neur</text>
<text class="vn" x="1723" y="3366">161</text>
<text class="vn" x="1940" y="3366">6</text>
<text class="vn" x="2158" y="3366">26</text>
<text class="vn" x="1940" y="3512">13</text>
<text class="vn" x="1806" y="3588">19</text>
<text class="vn" x="2075" y="3588">4</text>
<text class="vn" x="1940" y="3755">57</text>
</g>
</svg>
